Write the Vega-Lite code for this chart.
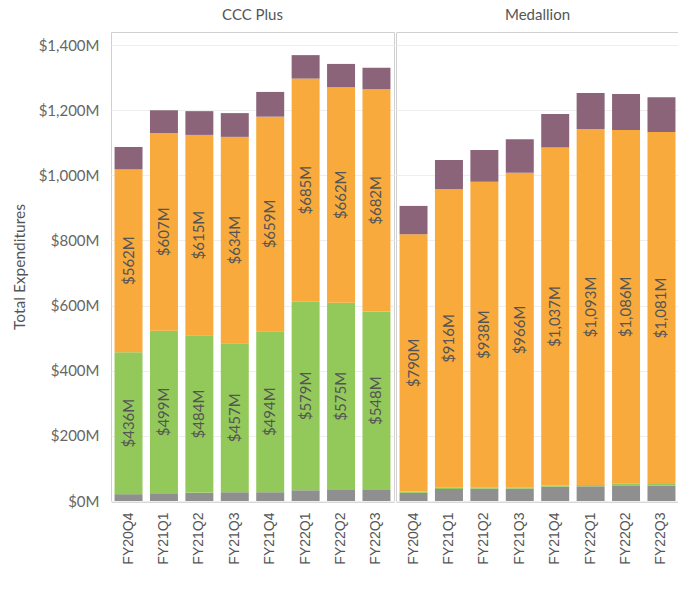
{
  "$schema": "https://vega.github.io/schema/vega-lite/v6.json",
  "padding": {"left": 12, "top": 8, "right": 0, "bottom": 0},
  "background": "white",
  "data": {"values": [
    {"plan": "CCC Plus", "quarter": "FY20Q4", "seg": "Base", "order": 1, "value": 21},
    {"plan": "CCC Plus", "quarter": "FY20Q4", "seg": "Green", "order": 2, "value": 436},
    {"plan": "CCC Plus", "quarter": "FY20Q4", "seg": "Orange", "order": 3, "value": 562},
    {"plan": "CCC Plus", "quarter": "FY20Q4", "seg": "Top", "order": 4, "value": 68},
    {"plan": "CCC Plus", "quarter": "FY21Q1", "seg": "Base", "order": 1, "value": 24},
    {"plan": "CCC Plus", "quarter": "FY21Q1", "seg": "Green", "order": 2, "value": 499},
    {"plan": "CCC Plus", "quarter": "FY21Q1", "seg": "Orange", "order": 3, "value": 607},
    {"plan": "CCC Plus", "quarter": "FY21Q1", "seg": "Top", "order": 4, "value": 70},
    {"plan": "CCC Plus", "quarter": "FY21Q2", "seg": "Base", "order": 1, "value": 25},
    {"plan": "CCC Plus", "quarter": "FY21Q2", "seg": "Green", "order": 2, "value": 484},
    {"plan": "CCC Plus", "quarter": "FY21Q2", "seg": "Orange", "order": 3, "value": 615},
    {"plan": "CCC Plus", "quarter": "FY21Q2", "seg": "Top", "order": 4, "value": 73},
    {"plan": "CCC Plus", "quarter": "FY21Q3", "seg": "Base", "order": 1, "value": 27},
    {"plan": "CCC Plus", "quarter": "FY21Q3", "seg": "Green", "order": 2, "value": 457},
    {"plan": "CCC Plus", "quarter": "FY21Q3", "seg": "Orange", "order": 3, "value": 634},
    {"plan": "CCC Plus", "quarter": "FY21Q3", "seg": "Top", "order": 4, "value": 73},
    {"plan": "CCC Plus", "quarter": "FY21Q4", "seg": "Base", "order": 1, "value": 27},
    {"plan": "CCC Plus", "quarter": "FY21Q4", "seg": "Green", "order": 2, "value": 494},
    {"plan": "CCC Plus", "quarter": "FY21Q4", "seg": "Orange", "order": 3, "value": 659},
    {"plan": "CCC Plus", "quarter": "FY21Q4", "seg": "Top", "order": 4, "value": 76},
    {"plan": "CCC Plus", "quarter": "FY22Q1", "seg": "Base", "order": 1, "value": 33},
    {"plan": "CCC Plus", "quarter": "FY22Q1", "seg": "Green", "order": 2, "value": 579},
    {"plan": "CCC Plus", "quarter": "FY22Q1", "seg": "Orange", "order": 3, "value": 685},
    {"plan": "CCC Plus", "quarter": "FY22Q1", "seg": "Top", "order": 4, "value": 72},
    {"plan": "CCC Plus", "quarter": "FY22Q2", "seg": "Base", "order": 1, "value": 34},
    {"plan": "CCC Plus", "quarter": "FY22Q2", "seg": "Green", "order": 2, "value": 575},
    {"plan": "CCC Plus", "quarter": "FY22Q2", "seg": "Orange", "order": 3, "value": 662},
    {"plan": "CCC Plus", "quarter": "FY22Q2", "seg": "Top", "order": 4, "value": 71},
    {"plan": "CCC Plus", "quarter": "FY22Q3", "seg": "Base", "order": 1, "value": 34},
    {"plan": "CCC Plus", "quarter": "FY22Q3", "seg": "Green", "order": 2, "value": 548},
    {"plan": "CCC Plus", "quarter": "FY22Q3", "seg": "Orange", "order": 3, "value": 682},
    {"plan": "CCC Plus", "quarter": "FY22Q3", "seg": "Top", "order": 4, "value": 66},
    {"plan": "Medallion", "quarter": "FY20Q4", "seg": "Base", "order": 1, "value": 25},
    {"plan": "Medallion", "quarter": "FY20Q4", "seg": "Green", "order": 2, "value": 4},
    {"plan": "Medallion", "quarter": "FY20Q4", "seg": "Orange", "order": 3, "value": 790},
    {"plan": "Medallion", "quarter": "FY20Q4", "seg": "Top", "order": 4, "value": 87},
    {"plan": "Medallion", "quarter": "FY21Q1", "seg": "Base", "order": 1, "value": 37},
    {"plan": "Medallion", "quarter": "FY21Q1", "seg": "Green", "order": 2, "value": 4},
    {"plan": "Medallion", "quarter": "FY21Q1", "seg": "Orange", "order": 3, "value": 916},
    {"plan": "Medallion", "quarter": "FY21Q1", "seg": "Top", "order": 4, "value": 90},
    {"plan": "Medallion", "quarter": "FY21Q2", "seg": "Base", "order": 1, "value": 38},
    {"plan": "Medallion", "quarter": "FY21Q2", "seg": "Green", "order": 2, "value": 4},
    {"plan": "Medallion", "quarter": "FY21Q2", "seg": "Orange", "order": 3, "value": 938},
    {"plan": "Medallion", "quarter": "FY21Q2", "seg": "Top", "order": 4, "value": 98},
    {"plan": "Medallion", "quarter": "FY21Q3", "seg": "Base", "order": 1, "value": 38},
    {"plan": "Medallion", "quarter": "FY21Q3", "seg": "Green", "order": 2, "value": 4},
    {"plan": "Medallion", "quarter": "FY21Q3", "seg": "Orange", "order": 3, "value": 966},
    {"plan": "Medallion", "quarter": "FY21Q3", "seg": "Top", "order": 4, "value": 103},
    {"plan": "Medallion", "quarter": "FY21Q4", "seg": "Base", "order": 1, "value": 44},
    {"plan": "Medallion", "quarter": "FY21Q4", "seg": "Green", "order": 2, "value": 4},
    {"plan": "Medallion", "quarter": "FY21Q4", "seg": "Orange", "order": 3, "value": 1037},
    {"plan": "Medallion", "quarter": "FY21Q4", "seg": "Top", "order": 4, "value": 103},
    {"plan": "Medallion", "quarter": "FY22Q1", "seg": "Base", "order": 1, "value": 45},
    {"plan": "Medallion", "quarter": "FY22Q1", "seg": "Green", "order": 2, "value": 4},
    {"plan": "Medallion", "quarter": "FY22Q1", "seg": "Orange", "order": 3, "value": 1093},
    {"plan": "Medallion", "quarter": "FY22Q1", "seg": "Top", "order": 4, "value": 111},
    {"plan": "Medallion", "quarter": "FY22Q2", "seg": "Base", "order": 1, "value": 48},
    {"plan": "Medallion", "quarter": "FY22Q2", "seg": "Green", "order": 2, "value": 5},
    {"plan": "Medallion", "quarter": "FY22Q2", "seg": "Orange", "order": 3, "value": 1086},
    {"plan": "Medallion", "quarter": "FY22Q2", "seg": "Top", "order": 4, "value": 111},
    {"plan": "Medallion", "quarter": "FY22Q3", "seg": "Base", "order": 1, "value": 47},
    {"plan": "Medallion", "quarter": "FY22Q3", "seg": "Green", "order": 2, "value": 5},
    {"plan": "Medallion", "quarter": "FY22Q3", "seg": "Orange", "order": 3, "value": 1081},
    {"plan": "Medallion", "quarter": "FY22Q3", "seg": "Top", "order": 4, "value": 107}
  ]},
  "transform": [
    {"stack": "value", "groupby": ["plan", "quarter"], "sort": [{"field": "order", "order": "ascending"}], "as": ["v0", "v1"]},
    {"calculate": "(datum.v0 + datum.v1) / 2", "as": "mid"},
    {"calculate": "'$' + format(datum.value, ',') + 'M'", "as": "label"}
  ],
  "facet": {
    "column": {
      "field": "plan", "type": "nominal", "title": null,
      "header": {"labelFont": "Lato", "labelFontSize": 15, "labelColor": "#555555", "labelPadding": 8, "labelOrient": "top"}
    }
  },
  "spacing": 0,
  "spec": {
    "width": 283,
    "height": 469,
    "layer": [
      {
        "mark": {"type": "bar"},
        "encoding": {
          "x": {
            "field": "quarter", "type": "ordinal", "title": null,
            "scale": {"paddingInner": 0.21, "paddingOuter": 0.1},
            "axis": {"labelAngle": -90, "labelFont": "Liberation Sans", "labelFontSize": 14, "labelColor": "#555555", "ticks": false, "domainColor": "#d8d8d8", "labelPadding": 10}
          },
          "y": {
            "field": "v1", "type": "quantitative",
            "scale": {"domain": [0, 1440], "nice": false},
            "axis": {
              "title": "Total Expenditures", "titleFont": "Lato", "titleFontSize": 15.5, "titleFontWeight": "normal", "titleColor": "#555555", "titlePadding": 11,
              "labelFont": "Lato", "labelFontSize": 15, "labelColor": "#666666", "labelPadding": 11,
              "ticks": false, "domain": false, "grid": true, "gridColor": "#eeeeee",
              "values": [0, 200, 400, 600, 800, 1000, 1200, 1400],
              "labelExpr": "'$' + format(datum.value, ',') + 'M'"
            }
          },
          "y2": {"field": "v0"},
          "color": {
            "field": "seg", "type": "nominal", "legend": null,
            "scale": {"domain": ["Base", "Green", "Orange", "Top"], "range": ["#8f8f8f", "#93c95b", "#f8aa3c", "#8c6479"]}
          }
        }
      },
      {
        "transform": [{"filter": "(datum.seg == 'Green' || datum.seg == 'Orange') && datum.value >= 100"}],
        "mark": {"type": "text", "angle": 270, "font": "Lato", "fontSize": 15, "color": "#555555", "align": "center", "baseline": "middle"},
        "encoding": {
          "x": {"field": "quarter", "type": "ordinal"},
          "y": {"field": "mid", "type": "quantitative"},
          "text": {"field": "label"}
        }
      }
    ]
  },
  "config": {"view": {"stroke": "#d0d0d0"}}
}
